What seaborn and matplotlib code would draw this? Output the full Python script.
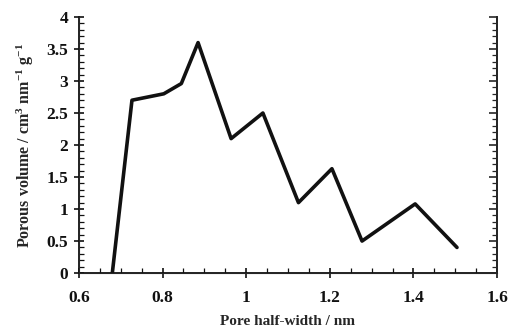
import matplotlib
matplotlib.use("Agg")
import matplotlib.pyplot as plt
import seaborn as sns
import pandas as pd
from matplotlib.ticker import MultipleLocator, FuncFormatter

pore_half_width = [0.68, 0.727, 0.803, 0.845, 0.885, 0.964, 1.04, 1.125, 1.205, 1.277, 1.404, 1.504]
porous_volume = [0.0, 2.7, 2.8, 2.96, 3.6, 2.1, 2.5, 1.1, 1.63, 0.5, 1.08, 0.4]

df = pd.DataFrame({"x": pore_half_width, "y": porous_volume})

sns.set_style("ticks")
plt.rcParams["font.family"] = ["Liberation Serif", "DejaVu Serif"]
plt.rcParams["mathtext.fontset"] = "custom"
plt.rcParams["mathtext.rm"] = "Liberation Serif:bold"
plt.rcParams["mathtext.it"] = "Liberation Serif:bold"
plt.rcParams["mathtext.bf"] = "Liberation Serif:bold"

fig = plt.figure(figsize=(5.12, 3.33), dpi=100)
ax = fig.add_axes([0.154, 0.180, 0.817, 0.769])
sns.lineplot(data=df, x="x", y="y", ax=ax, color="#111111", linewidth=2.6, sort=False)

ax.set_xlim(0.6, 1.6)
ax.set_ylim(0, 4)
ax.xaxis.set_major_locator(MultipleLocator(0.2))
ax.xaxis.set_minor_locator(MultipleLocator(0.05))
ax.yaxis.set_major_locator(MultipleLocator(0.5))
ax.yaxis.set_minor_locator(MultipleLocator(0.1))
ax.xaxis.set_major_formatter(FuncFormatter(lambda v, p: f"{v:g}"))
ax.yaxis.set_major_formatter(FuncFormatter(lambda v, p: f"{v:g}"))

for s in ["left", "right", "bottom"]:
    ax.spines[s].set_linewidth(1.3)
    ax.spines[s].set_color("#111111")
ax.spines["top"].set_visible(False)

ax.tick_params(axis="both", which="major", direction="inout", length=7, width=1.2,
               labelsize=12.5, pad=4, colors="#111111")
ax.tick_params(axis="both", which="minor", direction="in", length=3.5, width=0.9, colors="#111111")
ax.tick_params(axis="x", which="major", pad=9)
for lab in ax.get_xticklabels() + ax.get_yticklabels():
    lab.set_fontweight("bold")

ax2 = ax.twinx()
ax2.set_ylim(0, 4)
ax2.yaxis.set_major_locator(MultipleLocator(0.5))
ax2.yaxis.set_minor_locator(MultipleLocator(0.1))
ax2.tick_params(axis="y", which="major", direction="in", length=6, width=1.2, labelright=False)
ax2.tick_params(axis="y", which="minor", direction="in", length=3.5, width=0.9)
ax2.spines["top"].set_visible(False)
ax2.spines["right"].set_linewidth(1.3)

ax.set_xlabel("Pore half-width / nm", fontsize=11, fontweight="bold", labelpad=6)
ax.set_ylabel(r"Porous volume / cm$^3$ nm$^{-1}$ g$^{-1}$", fontsize=11.5, fontweight="bold", labelpad=8)

fig.savefig("out.png", dpi=100)
